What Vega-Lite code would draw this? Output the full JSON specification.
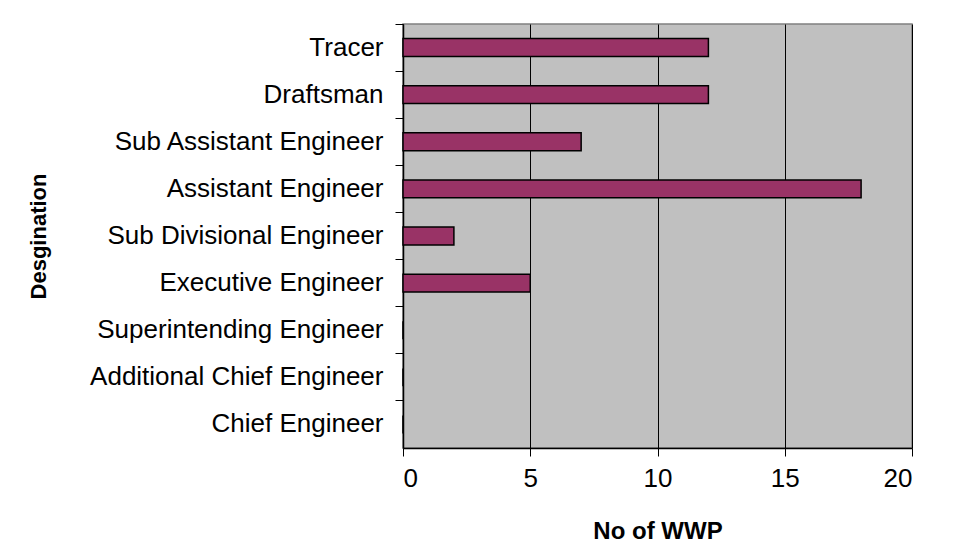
{
  "$schema": "https://vega.github.io/schema/vega-lite/v6.json",
  "autosize": "none",
  "padding": {"left": 403, "top": 24, "right": 44, "bottom": 106},
  "width": 509,
  "height": 424,
  "background": "white",
  "config": {
    "view": {"fill": "#C0C0C0", "stroke": "#808080", "strokeWidth": 1.5},
    "font": "Liberation Sans"
  },
  "data": {
    "values": [
      {"designation": "Tracer", "wwp": 12},
      {"designation": "Draftsman", "wwp": 12},
      {"designation": "Sub Assistant Engineer", "wwp": 7},
      {"designation": "Assistant Engineer", "wwp": 18},
      {"designation": "Sub Divisional Engineer", "wwp": 2},
      {"designation": "Executive Engineer", "wwp": 5},
      {"designation": "Superintending Engineer", "wwp": 0},
      {"designation": "Additional Chief Engineer", "wwp": 0},
      {"designation": "Chief Engineer", "wwp": 0}
    ]
  },
  "mark": {"type": "bar", "color": "#993366", "stroke": "black", "strokeWidth": 1.5, "height": {"band": 0.38}},
  "encoding": {
    "y": {
      "field": "designation",
      "type": "nominal",
      "sort": null,
      "scale": {"paddingInner": 0, "paddingOuter": 0},
      "axis": {
        "title": "Desgination",
        "titleFontSize": 22,
        "titleFontWeight": "bold",
        "titleColor": "black",
        "titleX": -353,
        "titleY": 212,
        "labelFontSize": 26,
        "labelColor": "black",
        "labelPadding": 12,
        "tickSize": 8,
        "tickColor": "black",
        "domainColor": "black",
        "domainWidth": 1.5,
        "bandPosition": 0,
        "labelLimit": 400
      }
    },
    "x": {
      "field": "wwp",
      "type": "quantitative",
      "scale": {"domain": [0, 20], "nice": false},
      "axis": {
        "title": "No of WWP",
        "titleFontSize": 24,
        "titleFontWeight": "bold",
        "titleColor": "black",
        "titlePadding": 28,
        "values": [0, 5, 10, 15, 20],
        "labelFontSize": 26,
        "labelColor": "black",
        "labelPadding": 9,
        "tickSize": 8,
        "tickColor": "black",
        "domainColor": "black",
        "domainWidth": 1.5,
        "grid": true,
        "gridColor": "black",
        "gridWidth": 1,
        "gridOpacity": 1
      }
    }
  }
}
